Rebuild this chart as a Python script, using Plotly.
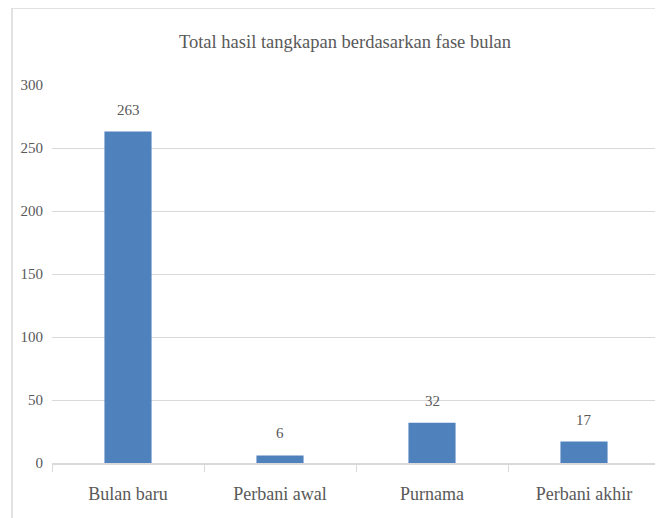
import plotly.graph_objects as go

categories = ["Bulan baru", "Perbani awal", "Purnama", "Perbani akhir"]
values = [263, 6, 32, 17]
y_ticks = [0, 50, 100, 150, 200, 250, 300]

TEXT = "#595959"
GRID = "#d9d9d9"
FONT = "Times New Roman, Liberation Serif, serif"

fig = go.Figure()
fig.add_trace(go.Bar(
    x=categories, y=values,
    marker=dict(color="#4f81bd", line=dict(width=0)),
    hoverinfo="x+y",
))

for c, v in zip(categories, values):
    fig.add_annotation(
        x=c, y=v, text=str(v), showarrow=False,
        yanchor="bottom", yshift=12,
        font=dict(family=FONT, size=15, color=TEXT),
    )

fig.update_layout(
    width=663, height=518,
    margin=dict(l=44, r=11, t=77, b=63),
    paper_bgcolor="white", plot_bgcolor="white",
    bargap=0.69,
    showlegend=False,
    title=dict(
        text="Total hasil tangkapan berdasarkan fase bulan",
        x=(337 / 663), xanchor="center",
        y=1 - 34 / 518, yanchor="middle",
        font=dict(family=FONT, size=18.5, color=TEXT),
    ),
    xaxis=dict(
        showline=True, linecolor=GRID, linewidth=1.5,
        ticks="outside", tickson="boundaries", ticklen=7, tickcolor=GRID,
        tickfont=dict(family=FONT, size=18, color=TEXT),
        ticklabelstandoff=14,
        showgrid=False,
    ),
    yaxis=dict(
        range=[0, 300],
        tickvals=y_ticks,
        showgrid=True, gridcolor=GRID, gridwidth=1,
        zeroline=False, showline=False, ticks="",
        tickfont=dict(family=FONT, size=15, color=TEXT),
        ticklabelstandoff=8,
    ),
    shapes=[dict(
        type="rect", xref="paper", yref="paper",
        x0=(12 - 52) / 608, x1=(680 - 52) / 608,
        y0=(463 - 530) / 378, y1=(463 - 8) / 378,
        line=dict(color=GRID, width=1.5), fillcolor="rgba(0,0,0,0)",
        layer="below",
    )],
)

fig.write_html("out.html")
